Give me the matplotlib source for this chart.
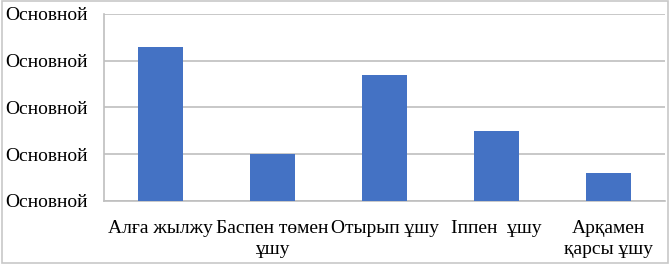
import matplotlib.pyplot as plt
import numpy as np

categories = ['Алға жылжу', 'Баспен төмен\nұшу', 'Отырып ұшу', 'Іппен  ұшу', 'Арқамен\nқарсы ұшу']
values = [3.3, 1.0, 2.7, 1.5, 0.6]
y_ticks = [0, 1, 2, 3, 4]
y_labels = ['Основной'] * 5

plt.rcParams['font.family'] = ['Liberation Serif', 'DejaVu Serif']

fig = plt.figure(figsize=(6.7, 2.64), dpi=100)
ax = fig.add_axes([104 / 670, 1 - 200.7 / 264, (665 - 104) / 670, (200.7 - 14) / 264])

x = np.arange(len(categories))
ax.bar(x, values, width=0.4, color='#4472C4', zorder=3)

ax.set_xlim(-0.5, len(categories) - 0.5)
ax.set_ylim(0, 4)
ax.set_yticks(y_ticks)
ax.set_yticklabels(y_labels, fontsize=14)
ax.set_xticks(x)
ax.set_xticklabels(categories, fontsize=14, linespacing=1.3)
ax.yaxis.grid(True, color='#BFBFBF', linewidth=1.2, zorder=0)
ax.tick_params(length=0, pad=12)
ax.tick_params(axis='x', pad=14)

for side in ['top', 'right']:
    ax.spines[side].set_visible(False)
for side in ['left', 'bottom']:
    ax.spines[side].set_color('#BFBFBF')
    ax.spines[side].set_linewidth(1.2)

# outer frame
fig.patches.append(plt.Rectangle((0.003, 0.005), 0.994, 0.99, transform=fig.transFigure,
                                 fill=False, edgecolor='#C8C8C8', linewidth=1.2))

fig.savefig('out.png', dpi=100)
